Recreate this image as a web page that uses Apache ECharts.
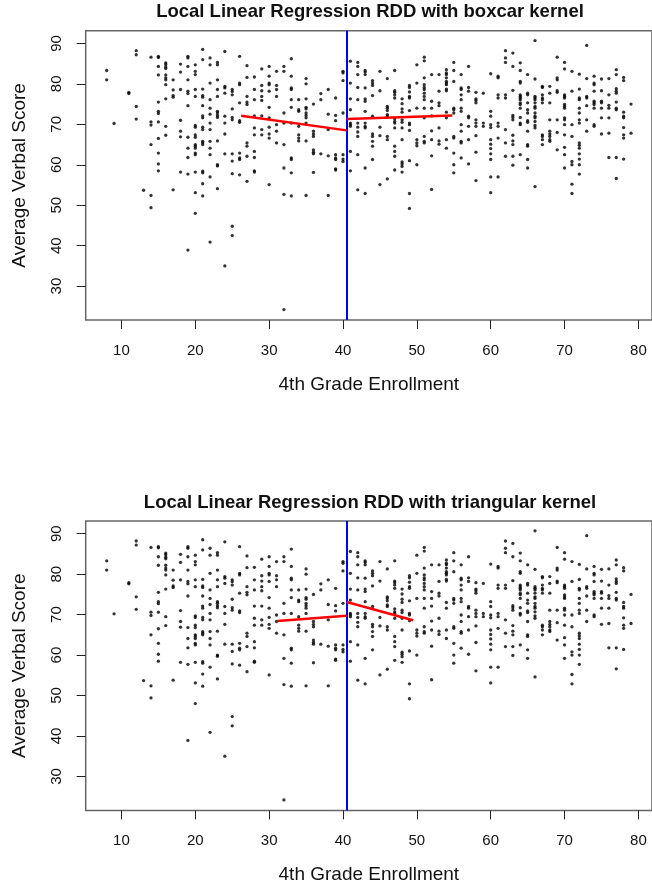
<!DOCTYPE html>
<html>
<head>
<meta charset="utf-8">
<script src="https://cdn.jsdelivr.net/npm/echarts@6/dist/echarts.min.js"></script>
<style>
  html, body { margin: 0; background: #fff; }
  #chart { width: 652px; height: 890px; }
</style>
</head>
<body>
<div id="chart"></div>
<script>
// enrollment values and the verbal scores observed at each of them
const enrollmentValues = [8, 9, 11, 12, 13, 14, 15, 16, 17, 18, 19, 20, 21, 22, 23, 24, 25, 26, 27, 28, 29, 30,
  31, 32, 33, 34, 35, 36, 37, 38, 39, 40, 41, 42, 43, 44, 45, 46, 47, 48, 49, 50, 51, 52, 53, 54, 55,
  56, 57, 58, 59, 60, 61, 62, 63, 64, 65, 66, 67, 68, 69, 70, 71, 72, 73, 74, 75, 76, 77, 78, 79];

const verbalScores = [
  [83.3, 81.0],
  [70.2],
  [77.9, 77.6],
  [88.2, 87.2, 74.4, 71.3],
  [53.7],
  [86.6, 70.6, 69.8, 65.0, 52.4, 49.4],
  [86.8, 86.5, 84.3, 82.2, 75.5, 73.2, 72.7, 70.6, 66.5, 62.9, 60.2, 58.5],
  [85.2, 84.8, 84.2, 83.8, 82.2, 81.5, 81.0, 79.8, 76.3, 69.5, 67.3],
  [81.0, 78.5, 77.1, 76.7, 53.8],
  [84.9, 82.9, 78.6, 71.0, 68.3, 66.9, 58.2],
  [86.8, 86.4, 84.3, 81.0, 78.2, 77.6, 74.6, 66.8, 64.1, 61.8, 57.7, 38.9],
  [84.7, 83.1, 82.3, 78.6, 76.9, 69.7, 69.3, 67.4, 66.8, 65.0, 64.6, 64.1, 62.9, 62.5, 58.2, 53.1, 48.0],
  [88.5, 86.0, 78.7, 77.1, 76.7, 74.6, 72.1, 71.6, 69.3, 68.7, 65.8, 65.4, 65.0, 58.4, 58.0, 55.3, 52.3],
  [86.4, 84.7, 80.2, 76.1, 74.0, 72.5, 70.3, 68.7, 65.8, 64.1, 62.5, 57.0, 40.9],
  [85.3, 84.7, 81.0, 78.6, 76.9, 73.2, 72.8, 72.2, 71.7, 65.9, 60.0, 59.7, 54.1],
  [88.0, 79.4, 79.0, 77.7, 72.0, 70.3, 67.6, 62.7, 35.0],
  [78.6, 78.1, 77.3, 73.8, 71.7, 71.1, 62.7, 60.9, 57.8, 44.8, 42.5],
  [86.8, 80.2, 79.8, 75.3, 70.9, 70.5, 62.9, 61.7, 61.3, 57.5],
  [84.5, 81.6, 76.9, 75.5, 74.9, 65.4, 64.6, 62.1, 55.9],
  [81.7, 78.6, 76.1, 72.1, 69.1, 67.4, 63.3, 61.8, 58.5, 58.2],
  [83.7, 79.6, 78.3, 76.9, 75.9, 72.1, 68.7, 67.4],
  [84.3, 81.9, 80.2, 79.8, 78.2, 74.2, 71.6, 69.3, 67.6, 66.6, 55.1],
  [83.1, 79.6, 78.6, 76.9, 69.9, 68.3, 65.4],
  [84.3, 83.1, 72.8, 70.3, 65.0, 59.2, 52.7, 24.2],
  [86.2, 81.9, 79.0, 78.6, 76.1, 74.2, 70.3, 61.7, 61.3, 58.0, 52.3],
  [76.1, 73.6, 73.2, 69.5, 67.4, 66.6, 65.9],
  [81.3, 80.0, 76.3, 74.2, 73.8, 72.8, 72.2, 71.6, 70.3, 65.9, 52.4],
  [75.0, 68.3, 67.6, 67.0, 63.7, 63.1, 62.7, 58.1],
  [77.6, 76.1, 62.7],
  [78.6, 72.5, 68.7, 62.2, 52.4],
  [76.5, 72.2, 70.9, 62.5, 61.7, 61.3, 59.0, 58.7],
  [83.1, 82.7, 80.8, 72.8, 62.5, 61.4, 60.8],
  [85.6, 80.2, 76.3, 73.6, 70.3, 69.9, 69.5, 63.3, 58.5],
  [85.3, 84.3, 82.3, 79.1, 76.1, 70.3, 69.3, 68.1, 67.0, 62.5, 53.8],
  [83.3, 82.9, 82.3, 79.0, 76.3, 75.7, 73.2, 70.3, 69.5, 69.1, 59.2, 52.9],
  [80.8, 80.2, 79.6, 77.1, 72.0, 67.6, 67.0, 65.8, 64.6, 61.3],
  [83.1, 78.3, 69.3, 67.2, 55.1],
  [81.3, 74.4, 74.0, 73.4, 72.4, 72.0, 67.0, 66.2, 56.5],
  [83.3, 78.3, 77.9, 77.3, 76.5, 71.4, 70.7, 70.3, 69.1, 64.6, 63.3, 62.1, 58.7],
  [76.3, 75.1, 73.8, 73.0, 71.1, 70.5, 69.1, 66.2, 60.7, 60.2, 59.6, 58.2],
  [79.6, 79.1, 78.0, 76.9, 76.5, 73.4, 70.3, 69.9, 68.5, 61.0, 52.9, 49.2],
  [84.7, 80.2, 74.0, 66.2, 65.4, 64.7, 60.0],
  [86.6, 85.7, 81.5, 79.8, 79.1, 78.6, 77.7, 76.9, 76.1, 74.0, 71.6, 67.0, 65.8, 65.4],
  [82.3, 75.7, 74.0, 72.1, 68.4, 66.2, 62.2, 53.9],
  [82.3, 78.2, 75.3, 74.6, 69.1, 65.9, 65.1],
  [83.5, 82.7, 82.3, 81.5, 80.6, 80.2, 79.8, 78.7, 78.3, 73.0, 71.6, 66.2, 64.1],
  [85.3, 83.3, 80.6, 74.0, 73.6, 72.8, 67.0, 66.6, 62.9, 60.0, 58.0],
  [82.3, 79.0, 78.6, 77.3, 76.1, 74.0, 73.2, 69.9, 68.3, 65.8, 65.4, 61.7],
  [84.3, 79.1, 78.2, 72.0, 71.6, 69.5, 66.2, 60.2],
  [77.9, 76.3, 75.9, 75.3, 71.1, 70.3, 69.5, 67.2, 63.1, 56.1],
  [77.7, 70.3, 69.5],
  [82.5, 73.2, 72.0, 69.9, 69.2, 66.2, 65.1, 64.0, 62.7, 61.3, 57.0, 53.1],
  [81.9, 81.5, 77.3, 76.5, 70.3, 69.5, 66.6, 57.0],
  [88.2, 86.4, 85.3, 77.3, 76.5, 68.7, 65.4, 62.1],
  [87.6, 84.3, 78.4, 72.2, 71.7, 71.1, 67.3, 65.9, 65.0, 62.1, 59.9],
  [85.2, 83.3, 80.6, 80.2, 77.3, 76.9, 76.5, 76.1, 75.3, 74.9, 74.0, 71.7, 70.3, 69.9, 62.5],
  [82.3, 77.7, 77.3, 75.3, 73.6, 72.8, 70.9, 70.5, 68.3, 65.0, 64.6, 61.3, 59.2],
  [90.7, 81.2, 76.9, 76.5, 76.1, 75.3, 74.4, 74.0, 72.8, 72.0, 71.6, 70.7, 69.7, 69.1, 54.6],
  [79.4, 79.1, 77.3, 76.5, 76.1, 75.3, 67.4, 67.0, 66.2, 65.0],
  [79.4, 77.7, 75.3, 71.1, 68.3, 67.6, 67.0, 66.2, 65.8],
  [86.6, 81.5, 81.0, 78.3, 77.9, 71.1, 68.0, 63.7],
  [85.3, 83.7, 77.3, 76.9, 76.5, 74.9, 74.4, 74.0, 71.6, 71.1, 69.9, 67.4, 64.3, 62.5, 59.2],
  [83.1, 78.2, 69.9, 67.0, 60.8, 60.0, 55.2, 52.9],
  [82.4, 78.7, 76.5, 76.1, 74.0, 72.8, 71.1, 70.3, 65.4, 64.8, 64.1, 62.7, 61.4, 60.0, 57.7],
  [89.5, 81.3, 76.9, 76.5, 74.6, 71.1, 68.3],
  [81.9, 80.2, 79.8, 78.2, 75.7, 75.3, 74.9, 74.0, 69.9, 69.5],
  [81.2, 78.3, 75.7, 75.3, 74.0, 71.6, 67.6],
  [81.3, 77.3, 74.7, 74.0, 71.6, 67.8, 61.8],
  [83.5, 82.3, 78.8, 78.2, 77.7, 75.5, 74.0, 73.6, 61.8, 56.6],
  [81.6, 80.8, 73.0, 72.0, 71.6, 69.2, 67.4, 66.6, 61.4],
  [75.0, 67.8],
];

const cutoff = 40.5;

// fitted local linear lines, [enrollment, score] at each end
const boxcarLeft = [[26.2, 72.1], [40.5, 68.5]];
const boxcarRight = [[40.5, 71.3], [54.8, 72.2]];
const triangularLeft = [[31.1, 68.4], [40.5, 69.7]];
const triangularRight = [[40.5, 73.1], [49.5, 68.6]];

const xTicks = [10, 20, 30, 40, 50, 60, 70, 80];
const yTicks = [30, 40, 50, 60, 70, 80, 90];
const xRange = [5.16, 81.84];
const yRange = [21.6, 93.14];

const titles = [
  'Local Linear Regression RDD with boxcar kernel',
  'Local Linear Regression RDD with triangular kernel',
];

const points = [];
enrollmentValues.forEach((x, i) => {
  verbalScores[i].forEach((y) => points.push([x, y]));
});

const font = 'Liberation Sans, Arial, Helvetica, sans-serif';
const panelTops = [30.7, 521];

function xAxisFor(idx) {
  return {
    type: 'value',
    gridIndex: idx,
    min: xRange[0],
    max: xRange[1],
    splitLine: { show: false },
    axisLine: { show: false },
    axisTick: { show: true, length: 9, customValues: xTicks, lineStyle: { color: '#222' } },
    axisLabel: { customValues: xTicks, fontSize: 15, color: '#111', fontFamily: font, margin: 23 },
    name: '4th Grade Enrollment',
    nameLocation: 'middle',
    nameGap: 55,
    nameTextStyle: { fontSize: 19, color: '#111', fontFamily: font },
  };
}

function yAxisFor(idx) {
  return {
    type: 'value',
    gridIndex: idx,
    min: yRange[0],
    max: yRange[1],
    splitLine: { show: false },
    axisLine: { show: false },
    axisTick: { show: true, length: 9, customValues: yTicks, lineStyle: { color: '#222' } },
    axisLabel: { customValues: yTicks, fontSize: 15, color: '#111', fontFamily: font, rotate: 90, margin: 21 },
    name: 'Average Verbal Score',
    nameLocation: 'middle',
    nameGap: 56,
    nameRotate: 90,
    nameTextStyle: { fontSize: 19, color: '#111', fontFamily: font },
  };
}

function fitLine(idx, data) {
  return {
    type: 'line',
    xAxisIndex: idx,
    yAxisIndex: idx,
    data,
    symbol: 'none',
    silent: true,
    lineStyle: { color: '#ff0000', width: 2.5 },
    z: 5,
  };
}

const series = [];
[0, 1].forEach((idx) => {
  series.push({
    type: 'scatter',
    xAxisIndex: idx,
    yAxisIndex: idx,
    data: points,
    symbolSize: 3.3,
    itemStyle: { color: '#000' },
    silent: true,
    markLine: {
      silent: true,
      symbol: 'none',
      label: { show: false },
      lineStyle: { color: '#0000ff', width: 2, type: 'solid' },
      data: [{ xAxis: cutoff }],
    },
  });
});
series.push(fitLine(0, boxcarLeft), fitLine(0, boxcarRight));
series.push(fitLine(1, triangularLeft), fitLine(1, triangularRight));

const chart = echarts.init(document.getElementById('chart'), null, { renderer: 'canvas' });
chart.setOption({
  animation: false,
  backgroundColor: '#fff',
  title: titles.map((text, idx) => ({
    text,
    left: 370,
    top: panelTops[idx] - 28,
    textAlign: 'center',
    padding: 0,
    textStyle: { fontSize: 18.5, fontWeight: 'bold', color: '#111', fontFamily: font },
  })),
  grid: panelTops.map((top) => ({
    left: 85.7,
    top,
    width: 570.7,
    height: 289.4,
    show: true,
    borderColor: '#666',
    borderWidth: 1.5,
    backgroundColor: 'transparent',
  })),
  xAxis: [xAxisFor(0), xAxisFor(1)],
  yAxis: [yAxisFor(0), yAxisFor(1)],
  series,
});
</script>
</body>
</html>
